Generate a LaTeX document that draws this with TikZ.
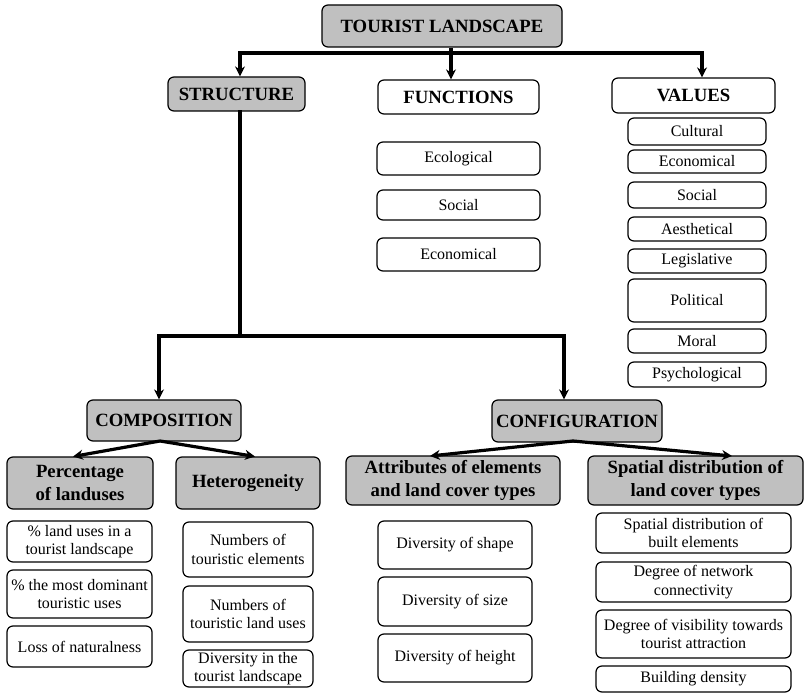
\documentclass[tikz,border=0pt]{standalone}
\usepackage{fontspec}
\setmainfont{Liberation Serif}
\usetikzlibrary{arrows.meta}
\definecolor{gfill}{RGB}{192,192,192}
\tikzset{
  box/.style={draw=black, line width=1.2pt, rounded corners=6pt, inner sep=0pt, align=center,
    font=\fontsize{16}{18.5}\selectfont},
  hbox/.style={box, fill=gfill, font=\fontsize{18.7}{22.5}\selectfont\bfseries},
  wbox/.style={box, fill=white, font=\fontsize{18.7}{22.5}\selectfont\bfseries},
  sz/.style 2 args={minimum width=#1pt, minimum height=#2pt},
  line/.style={line width=3.2pt, line cap=rect},
  arr/.style={line width=3.2pt, -{Stealth[length=10pt,width=10pt]}},
}
\begin{document}
\begin{tikzpicture}[x=1pt,y=-1pt]
\useasboundingbox (0,0) rectangle (804,693);
% top level
\node[hbox, sz={240}{42}] (tl) at (442,26) {TOURIST LANDSCAPE};
\node[hbox, sz={137}{34}] (st) at (236.5,94) {STRUCTURE};
\node[wbox, sz={161}{34}] (fn) at (458.5,97) {FUNCTIONS};
\node[wbox, sz={163}{35}] (va) at (693.5,95.5) {VALUES};
% functions
\node[box, sz={163}{33}] (f1) at (458.5,158.5) {Ecological};
\node[box, sz={163}{30}] (f2) at (458.5,205) {Social};
\node[box, sz={163}{33}] (f3) at (458.5,254.5) {Economical};
% values
\node[box, sz={138}{27}] (v1) at (697,131.5) {Cultural};
\node[box, sz={138}{23}] (v2) at (697,161.5) {Economical};
\node[box, sz={138}{26}] (v3) at (697,195) {Social};
\node[box, sz={138}{24}] (v4) at (697,229) {Aesthetical};
\node[box, sz={138}{24}] (v5) at (697,261) {Legislative};
\node[box, sz={138}{43}] (v6) at (697,300.5) {Political};
\node[box, sz={138}{24}] (v7) at (697,341) {Moral};
\node[box, sz={138}{25}] (v8) at (697,374.5) {Psychological};
% composition / configuration
\node[hbox, sz={154}{41}] (co) at (164,420.5) {COMPOSITION};
\node[hbox, sz={170}{42}] (cf) at (577,421) {CONFIGURATION};
\node[hbox, sz={146}{52}] (pc) at (80,483) {Percentage\\of landuses};
\node[hbox, sz={144}{52}] (he) at (248,483) {Heterogeneity};
\node[hbox, sz={214}{49}] (at) at (453,480.5) {Attributes of elements\\and land cover types};
\node[hbox, sz={215}{49}] (sd) at (695.5,480.5) {Spatial distribution of\\land cover types};
% percentage items
\node[box, sz={145}{41}] (p1) at (79.5,541.5) {\% land uses in a\\tourist landscape};
\node[box, sz={145}{48}] (p2) at (79.5,594) {\% the most dominant\\touristic uses};
\node[box, sz={145}{41}] (p3) at (79.5,646.5) {Loss of naturalness};
% heterogeneity items
\node[box, sz={130}{55}] (h1) at (248,549.5) {Numbers of\\touristic elements};
\node[box, sz={130}{56}] (h2) at (248,614) {Numbers of\\touristic land uses};
\node[box, sz={130}{37}] (h3) at (248,668.5) {Diversity in the\\tourist landscape};
% attributes items
\node[box, sz={154}{48}] (a1) at (455,545) {Diversity of shape};
\node[box, sz={154}{49}] (a2) at (455,601.5) {Diversity of size};
\node[box, sz={154}{48}] (a3) at (455,658) {Diversity of height};
% spatial items
\node[box, sz={195}{40}] (s1) at (693.5,533) {Spatial distribution of\\built elements};
\node[box, sz={195}{40}] (s2) at (693.5,582) {Degree of network\\connectivity};
\node[box, sz={195}{48}] (s3) at (693.5,634) {Degree of visibility towards\\tourist attraction};
\node[box, sz={195}{26}] (s4) at (693.5,679) {Building density};
% connectors top
\coordinate (j1l) at (240,53);
\coordinate (j1r) at (702,53);
\coordinate (j1m) at (451,53);
\draw[line] (j1l) -- (j1r);
\draw[arr] (j1l) -- (j1l |- st.north);
\draw[arr] (j1r) -- (j1r |- va.north);
\draw[arr] (j1m |- tl.south) -- (j1m |- fn.north);
% structure down
\coordinate (j2t) at (240,111);
\coordinate (j2) at (240,336);
\coordinate (j2l) at (159,336);
\coordinate (j2r) at (564,336);
\draw[line] (j2t |- st.south) -- (j2) ;
\draw[line] (j2l) -- (j2r);
\draw[arr] (j2l) -- (j2l |- co.north);
\draw[arr] (j2r) -- (j2r |- cf.north);
% composition split
\coordinate (c0) at (160,441);
\coordinate (c1) at (73,456.5);
\coordinate (c2) at (255,456.5);
\draw[arr] (c0) -- (c1);
\draw[arr] (c0) -- (c2);
% configuration split
\coordinate (d0) at (573,441);
\coordinate (d1) at (430,456);
\coordinate (d2) at (732,456);
\draw[arr] (d0) -- (d1);
\draw[arr] (d0) -- (d2);
\end{tikzpicture}
\end{document}
